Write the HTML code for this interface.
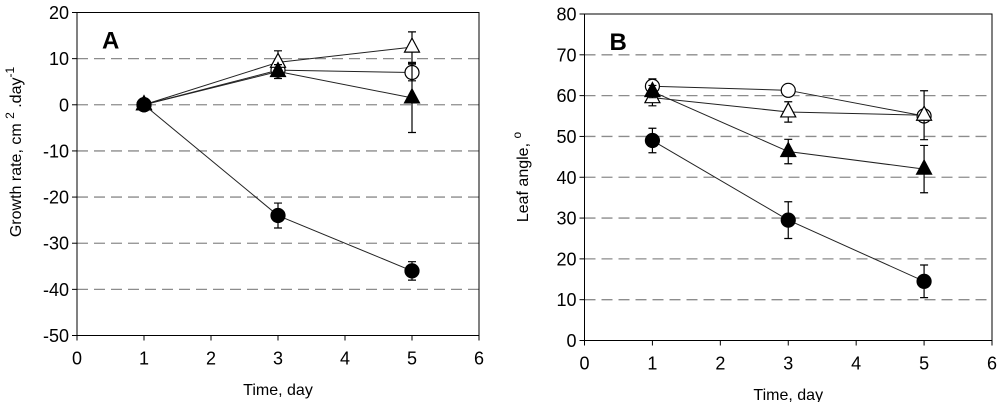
<!DOCTYPE html>
<html><head><meta charset="utf-8"><style>
body{margin:0;background:#fff;}
svg{display:block;font-family:"Liberation Sans",Arial,sans-serif;}
</style></head><body>
<svg id="chart" width="1000" height="402" viewBox="0 0 1000 402"></svg>
<script>
// ---- data ----
const days = [1, 3, 5];
const xTicks = [0, 1, 2, 3, 4, 5, 6];
// Panel A: growth rate
const aTicks = [20, 10, 0, -10, -20, -30, -40, -50];
const aClosedCircle = [0, -24, -36];
const aClosedCircleErr = [0.8, 2.7, 2];
const aOpenCircle = [0, 7.5, 7];
const aOpenCircleErr = [0.5, 1.2, 1.8];
const aOpenTri = [0, 9.2, 12.5];
const aOpenTriErr = [0.5, 2.5, 3.3];
const aClosedTri = [0, 7.2, 1.5];
const aClosedTriErr = [0.5, 1.5, 7.5];
// Panel B: leaf angle
const bTicks = [80, 70, 60, 50, 40, 30, 20, 10, 0];
const bClosedCircle = [49, 29.5, 14.5];
const bClosedCircleErr = [3, 4.5, 4];
const bOpenCircle = [62.3, 61.3, 55];
const bOpenCircleErr = [1.8, 0.5, 1];
const bOpenTri = [59.5, 56, 55.2];
const bOpenTriErr = [2, 2.5, 6];
const bClosedTri = [61, 46.3, 42];
const bClosedTriErr = [1.5, 3, 5.8];

const NS = "http://www.w3.org/2000/svg";
const svg = document.getElementById('chart');
function mk(tag, attrs, parent){
  const e = document.createElementNS(NS, tag);
  for (const k in attrs) e.setAttribute(k, attrs[k]);
  (parent || svg).appendChild(e);
  return e;
}

function panel(cfg){
  const g = mk('g', {});
  
  
  const X = v => cfg.l + (v - 0) / 6 * (cfg.r - cfg.l);
  const Y = v => cfg.b - (v - cfg.ymin) / (cfg.ymax - cfg.ymin) * (cfg.b - cfg.t);
  cfg.ticks.forEach(t => {
    if (t === cfg.ymin || t === cfg.ymax) return;
    const ln = mk('line', {x1: cfg.l, x2: cfg.r, y1: Y(t), y2: Y(t), stroke: '#8c8c8c', 'stroke-width': 1.3, 'stroke-dasharray': '11 6'}, g);
    
    
  });
  const fr = mk('rect', {x: cfg.l, y: cfg.t, width: cfg.r - cfg.l, height: cfg.b - cfg.t, fill: 'none', stroke: '#000', 'stroke-width': 1}, g);
  
  
  cfg.ticks.forEach(t => {
    mk('line', {x1: cfg.l, x2: cfg.l - 5, y1: Y(t), y2: Y(t), stroke: '#000'}, g);
    const tx = mk('text', {x: cfg.l - 8, y: Y(t) + 6.5, 'text-anchor': 'end', 'font-size': 18, fill: '#000'}, g);
    tx.textContent = t;
    
    
  });
  xTicks.forEach(t => {
    mk('line', {x1: X(t), x2: X(t), y1: cfg.b, y2: cfg.b + 5, stroke: '#000'}, g);
    const tx = mk('text', {x: X(t), y: cfg.b + 29, 'text-anchor': 'middle', 'font-size': 18, fill: '#000'}, g);
    tx.textContent = t;
    
    
  });
  const xt = mk('text', {x: (cfg.l + cfg.r) / 2, y: cfg.xtY, 'text-anchor': 'middle', 'font-size': 16, fill: '#000'}, g);
  xt.textContent = 'Time, day';
  
  
  const pl = mk('text', {x: cfg.l + 25, y: cfg.t + 36, 'font-size': 24, 'font-weight': 'bold', fill: '#000'}, g);
  pl.textContent = cfg.letter;
  
  

  const series = [
    {v: cfg.oc, e: cfg.oce, m: 'circle', fill: '#fff', n: 'open-circle'},
    {v: cfg.ot, e: cfg.ote, m: 'tri', fill: '#fff', n: 'open-triangle'},
    {v: cfg.ct, e: cfg.cte, m: 'tri', fill: '#000', n: 'closed-triangle'},
    {v: cfg.cc, e: cfg.cce, m: 'circle', fill: '#000', n: 'closed-circle'}
  ];
  series.forEach(s => {
    const sg = mk('g', {}, g);
    
    
    const pts = days.map((d, i) => X(d) + ',' + Y(s.v[i])).join(' ');
    mk('polyline', {points: pts, fill: 'none', stroke: '#222', 'stroke-width': 1}, sg);
    days.forEach((d, i) => {
      const x = X(d), y1 = Y(s.v[i] + s.e[i]), y2 = Y(s.v[i] - s.e[i]);
      const eb = mk('path', {d: `M${x},${y1}V${y2}M${x-4},${y1}H${x+4}M${x-4},${y2}H${x+4}`, stroke: '#000', 'stroke-width': 1.2, fill: 'none'}, sg);
      
      
    });
    days.forEach((d, i) => {
      const x = X(d), y = Y(s.v[i]);
      let m;
      if (s.m === 'circle') m = mk('circle', {cx: x, cy: y, r: 7, fill: s.fill, stroke: '#000', 'stroke-width': 1.2}, sg);
      else m = mk('polygon', {points: `${x},${y-9} ${x+7.5},${y+5} ${x-7.5},${y+5}`, fill: s.fill, stroke: '#000', 'stroke-width': 1.2}, sg);
      
      
    });
  });
  return g;
}

panel({name: 'panel-a-growth-rate', letter: 'A', l: 77, r: 479, t: 12.5, b: 335.5, ymin: -50, ymax: 20, ticks: aTicks, xtY: 395,
  cc: aClosedCircle, cce: aClosedCircleErr, oc: aOpenCircle, oce: aOpenCircleErr,
  ot: aOpenTri, ote: aOpenTriErr, ct: aClosedTri, cte: aClosedTriErr});
panel({name: 'panel-b-leaf-angle', letter: 'B', l: 584.5, r: 992, t: 14, b: 340.5, ymin: 0, ymax: 80, ticks: bTicks, xtY: 400,
  cc: bClosedCircle, cce: bClosedCircleErr, oc: bOpenCircle, oce: bOpenCircleErr,
  ot: bOpenTri, ote: bOpenTriErr, ct: bClosedTri, cte: bClosedTriErr});

const ya = mk('text', {transform: 'translate(21,152) rotate(-90)', 'text-anchor': 'middle', 'font-size': 16, fill: '#000'});
ya.innerHTML = 'Growth rate, cm <tspan dy="-7" font-size="12">2</tspan><tspan dy="7"> .day</tspan><tspan dy="-7" font-size="12">-1</tspan>';


const yb = mk('text', {transform: 'translate(528,177) rotate(-90)', 'text-anchor': 'middle', 'font-size': 16, fill: '#000'});
yb.innerHTML = 'Leaf angle, <tspan dy="-7" font-size="12">o</tspan>';


</script>
</body></html>
